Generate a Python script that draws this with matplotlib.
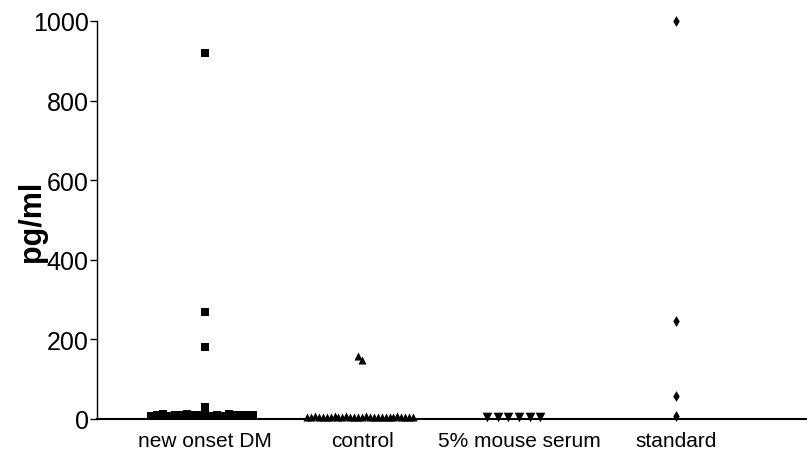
import numpy as np
import matplotlib.pyplot as plt

plt.rcParams['font.family'] = ['Liberation Sans', 'DejaVu Sans']

groups = ["new onset DM", "control", "5% mouse serum", "standard"]

# pg/ml
new_onset = [920, 270, 180, 30, 12, 10, 8, 11, 9, 13, 7, 10, 12, 9, 11, 8, 10, 12, 9, 11, 10, 8]
control = [147, 158, 6, 5, 7, 4, 6, 5, 6, 7, 5, 6, 4, 6, 5, 7, 6, 5, 6, 4, 7, 5, 6, 5, 6, 7, 5, 6, 5, 6]
mouse_serum = [6, 6, 6, 6, 6, 6]
standard = [1000, 245, 58, 8]

yticks = [0, 200, 400, 600, 800, 1000]


def swarm(vals, step, dy=15):
    # spread points of similar value sideways, like a column scatter
    placed = []
    offs = []
    cands = [0]
    for i in range(1, 80):
        cands += [-i, i]
    for v in vals:
        for c in cands:
            if all(abs(v - pv) >= dy or c != pc for pv, pc in placed):
                break
        placed.append((v, c))
        offs.append(c * step)
    return np.array(offs)


fig = plt.figure(figsize=(8.07, 4.56), dpi=100)
ax = fig.add_axes([97 / 807, 36 / 456, 710 / 807, 398 / 456])

series = [
    (new_onset, 's', 32, 0.038),
    (control, '^', 34, 0.025),
    (mouse_serum, 'v', 48, 0.068),
    (standard, 'd', 30, 0.03),
]
for i, (vals, mk, size, step) in enumerate(series):
    x = i + swarm(vals, step)
    ax.scatter(x, vals, marker=mk, s=size, color='black', linewidths=0,
               clip_on=False, zorder=3)

ax.set_xlim(-0.688, 3.834)
ax.set_ylim(0, 1000)
ax.set_xticks(range(len(groups)))
ax.set_xticklabels(groups, fontsize=15)
ax.set_yticks(yticks)
ax.set_yticklabels([str(t) for t in yticks], fontsize=18)
ax.tick_params(axis='x', length=0, pad=9)
ax.tick_params(axis='y', length=5, width=1, pad=1)
ax.spines['top'].set_visible(False)
ax.spines['right'].set_visible(False)
ax.spines['left'].set_linewidth(1)
ax.spines['bottom'].set_linewidth(1.5)
ax.set_ylabel("pg/ml", fontsize=22, fontweight='bold')
ax.yaxis.set_label_coords(-0.071, 0.5)

fig.savefig("out.png", dpi=100)
